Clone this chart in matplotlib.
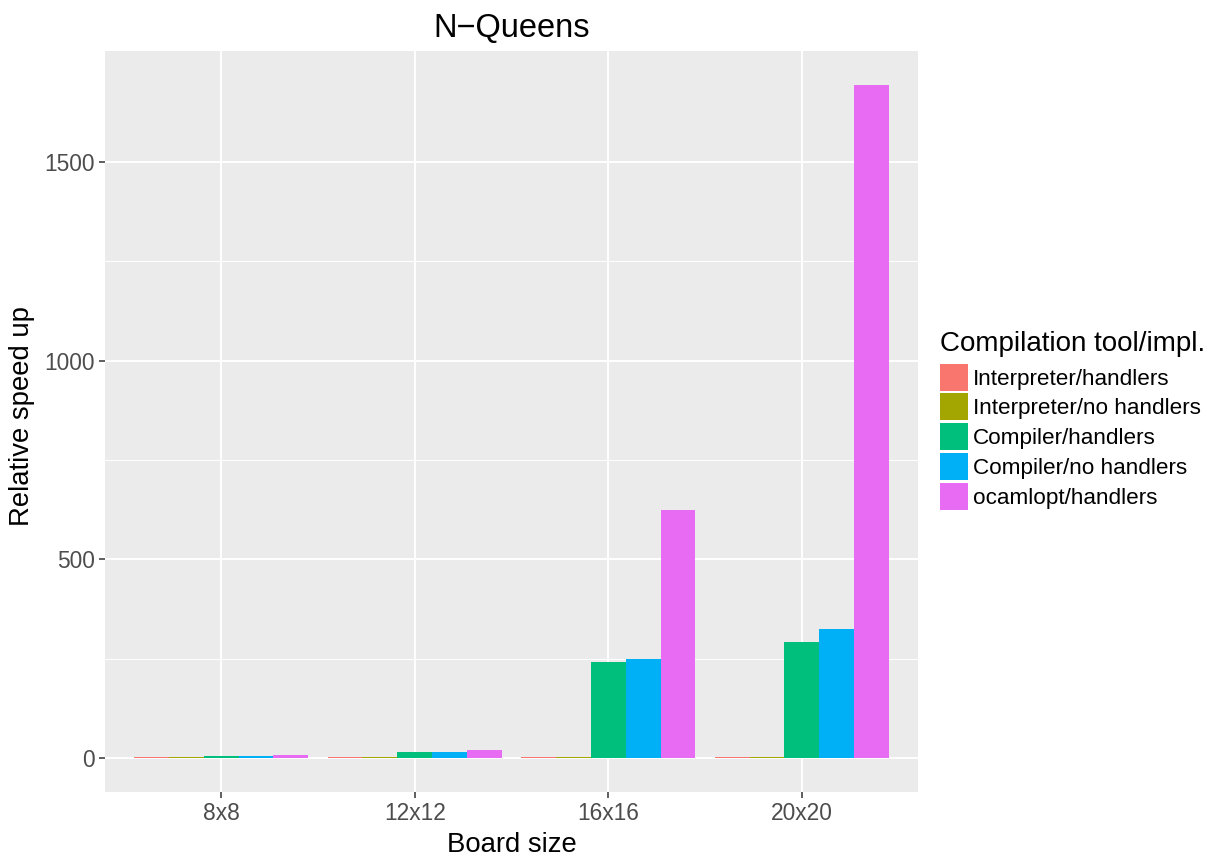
import numpy as np
import matplotlib.pyplot as plt
from matplotlib.patches import Patch

plt.rcParams['font.family'] = ['Liberation Sans', 'DejaVu Sans']

boards = ['8x8', '12x12', '16x16', '20x20']
tools = ['Interpreter/handlers', 'Interpreter/no handlers', 'Compiler/handlers',
         'Compiler/no handlers', 'ocamlopt/handlers']
colors = ['#F8766D', '#A3A500', '#00BF7D', '#00B0F6', '#E76BF3']

interp_handlers = [2.5, 2.5, 2.5, 2.5]
interp_nohandlers = [2.8, 2.8, 2.8, 2.8]
comp_handlers = [7, 17, 241, 292]
comp_nohandlers = [7, 17, 249, 325]
ocamlopt_handlers = [7.5, 21, 624, 1694]
speedups = [interp_handlers, interp_nohandlers, comp_handlers, comp_nohandlers, ocamlopt_handlers]

fig = plt.figure(figsize=(12.14, 8.57), dpi=100)
ax = fig.add_axes([105/1214, 1 - 792/857, 813/1214, 741/857])
ax.set_facecolor('#EBEBEB')
ax.set_axisbelow(True)

x = np.arange(1, len(boards) + 1)
w = 0.9 / len(tools)
for i, (vals, c) in enumerate(zip(speedups, colors)):
    ax.bar(x - 0.45 + w * (i + 0.5), vals, width=w, color=c, zorder=3, linewidth=0)

ymax = max(ocamlopt_handlers)
ax.set_ylim(-0.05 * ymax, 1.05 * ymax)
ax.set_xlim(0.4, 4.6)

ax.set_yticks([0, 500, 1000, 1500])
ax.set_yticks([250, 750, 1250], minor=True)
ax.set_xticks(x)
ax.set_xticklabels(boards)
ax.grid(which='major', color='white', linewidth=1.4)
ax.grid(which='minor', axis='y', color='white', linewidth=0.7)
ax.tick_params(which='major', length=4.5, width=1.1, color='#333333', labelcolor='#4D4D4D',
               labelsize=16.4, pad=3)
ax.tick_params(which='minor', length=0)
for s in ax.spines.values():
    s.set_visible(False)

ax.set_xlabel('Board size', fontsize=19.8, labelpad=5)
ax.set_ylabel('Relative speed up', fontsize=19.8)
ax.yaxis.set_label_coords(-0.086, 0.508)
ax.set_title('N\u2212Queens', fontsize=23.5, pad=10)

handles = [Patch(facecolor=c, linewidth=0) for c in colors]
leg = fig.legend(handles, tools, title='Compilation tool/impl.', loc='upper left',
                 bbox_to_anchor=(940/1214, 1 - 331/857), frameon=False, fontsize=16.2,
                 title_fontsize=20, handlelength=1.24, handleheight=1.47,
                 handletextpad=0.22, labelspacing=0.12, borderaxespad=0, borderpad=0)
leg._legend_box.align = 'left'
leg._legend_box.sep = 0.12 * 16.2 + 2.9

fig.savefig('out.png', dpi=100)
